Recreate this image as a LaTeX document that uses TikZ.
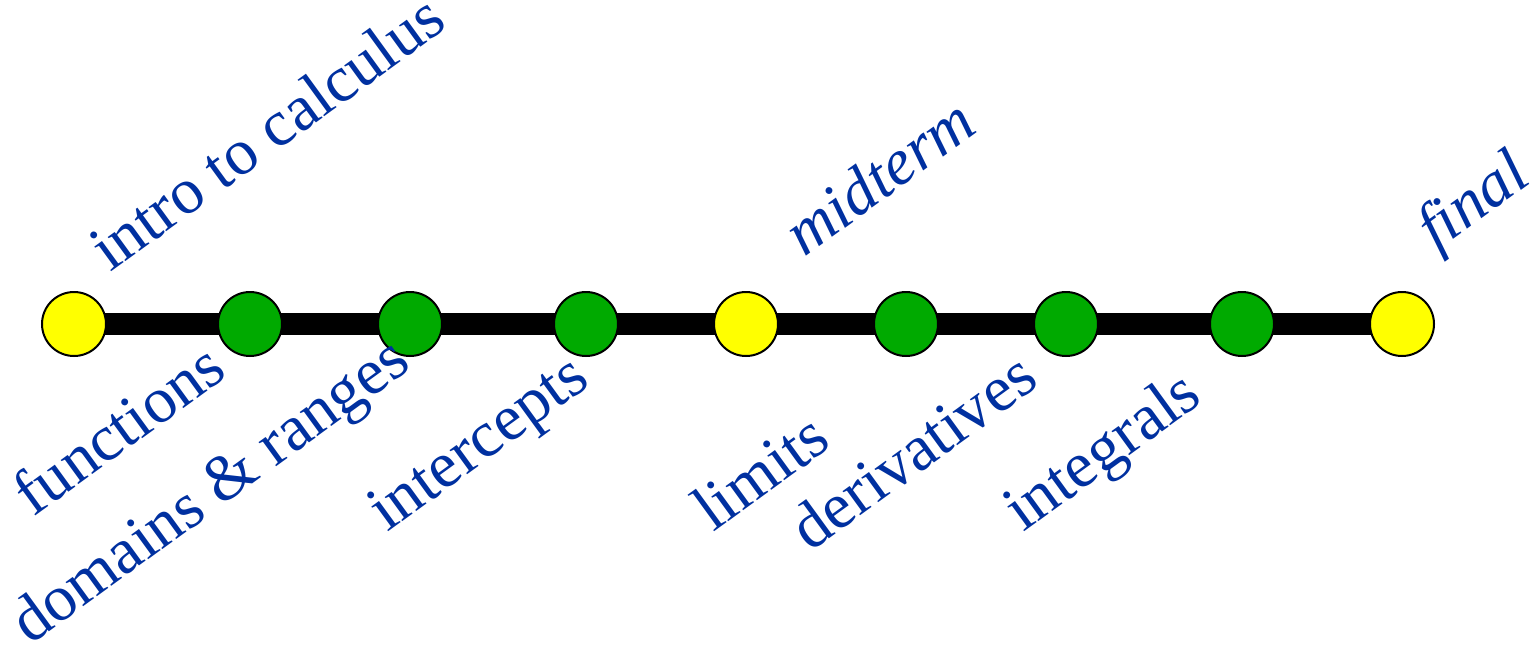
\documentclass[tikz,border=0pt]{standalone}
\usepackage{fontspec}
\setmainfont{Liberation Serif}
\usetikzlibrary{backgrounds}
\definecolor{lblblue}{RGB}{0,48,160}
\definecolor{dotgreen}{RGB}{0,170,0}
\definecolor{dotyellow}{RGB}{255,255,0}
\tikzset{
  dot/.style={circle,draw=black,line width=1pt,minimum size=32pt,inner sep=0pt},
  gdot/.style={dot,fill=dotgreen},
  ydot/.style={dot,fill=dotyellow},
  lbl/.style={text=lblblue,font=\fontsize{32.5}{32.5}\selectfont,rotate=36,anchor=base west,inner sep=0pt},
  ilbl/.style={lbl,font=\fontsize{32.5}{32.5}\selectfont\itshape},
  track/.style={line width=11pt,black}
}
\begin{document}
\begin{tikzpicture}[x=0.5pt,y=-0.5pt]
\useasboundingbox (0,0) rectangle (1537,649);
\node[ydot] (c0) at (74,324) {};
\node[gdot] (c1) at (250,324) {};
\node[gdot] (c2) at (410,324) {};
\node[gdot] (c3) at (586,324) {};
\node[ydot] (c4) at (746,324) {};
\node[gdot] (c5) at (906,324) {};
\node[gdot] (c6) at (1066,324) {};
\node[gdot] (c7) at (1242,324) {};
\node[ydot] (c8) at (1402,324) {};
\begin{scope}[on background layer]
\draw[track] (c0.center) -- (c8.center);
\end{scope}
\node[lbl] (t0) at (110,273) {intro to calculus};
\node[ilbl] (t4) at (804,258) {midterm};
\node[ilbl] (t8) at (1436,252) {final};
\node[lbl] (b1) at (33,518) {functions};
\node[lbl] (b2) at (30,646) {domains \& ranges};
\node[lbl] (b3) at (387,533) {intercepts};
\node[lbl] (b4) at (713,533) {limits};
\node[lbl] (b5) at (810,553) {derivatives};
\node[lbl] (b6) at (1023,533) {integrals};
\end{tikzpicture}
\end{document}
